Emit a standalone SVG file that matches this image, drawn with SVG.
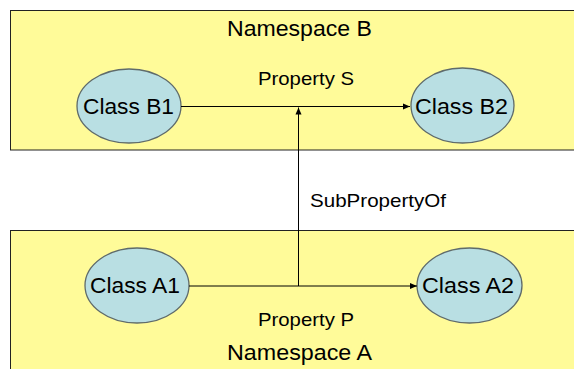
<svg xmlns="http://www.w3.org/2000/svg" width="574" height="369" viewBox="0 0 574 369">
<style>
.ns{fill:#FFFB99;stroke:#222;stroke-width:1}
.cls{fill:#B9DFE3;stroke:#5F6B6B;stroke-width:1.3}
text{font-family:"Liberation Sans",Arial,sans-serif;fill:#000}
.big{font-size:22px}
.mid{font-size:18.5px}
.edge{stroke:#000;stroke-width:1;fill:none}
</style>
<defs>
<marker id="ah" markerWidth="8" markerHeight="8" refX="7" refY="4" orient="auto" markerUnits="userSpaceOnUse">
<path d="M0,1 L7,4 L0,7 Z" fill="#000"/>
</marker>
</defs>
<g id="namespaceB">
<rect class="ns" x="10.5" y="10.5" width="580" height="139.5"/>
<text class="big" x="299.5" y="36" text-anchor="middle" textLength="145" lengthAdjust="spacingAndGlyphs">Namespace B</text>
</g>
<g id="namespaceA">
<rect class="ns" x="10.5" y="230.5" width="580" height="150"/>
<text class="big" x="299.5" y="360" text-anchor="middle" textLength="145" lengthAdjust="spacingAndGlyphs">Namespace A</text>
</g>
<g id="classB1">
<ellipse class="cls" cx="129" cy="106" rx="52" ry="37"/>
<text class="big" x="128.5" y="113.5" text-anchor="middle" textLength="91" lengthAdjust="spacingAndGlyphs">Class B1</text>
</g>
<g id="classB2">
<ellipse class="cls" cx="462.5" cy="105.5" rx="51.5" ry="37.5"/>
<text class="big" x="461.5" y="113.5" text-anchor="middle" textLength="93" lengthAdjust="spacingAndGlyphs">Class B2</text>
</g>
<g id="classA1">
<ellipse class="cls" cx="137" cy="285.5" rx="52" ry="37.5"/>
<text class="big" x="135" y="293" text-anchor="middle" textLength="90" lengthAdjust="spacingAndGlyphs">Class A1</text>
</g>
<g id="classA2">
<ellipse class="cls" cx="469.5" cy="285.5" rx="52.5" ry="37.5"/>
<text class="big" x="468" y="293" text-anchor="middle" textLength="92" lengthAdjust="spacingAndGlyphs">Class A2</text>
</g>
<g id="connectors">
<line class="edge" x1="181" y1="106.5" x2="410" y2="106.5" marker-end="url(#ah)"/>
<line class="edge" x1="189" y1="286" x2="417" y2="286" marker-end="url(#ah)"/>
<line class="edge" x1="298.5" y1="286" x2="298.5" y2="107.5" marker-end="url(#ah)"/>
<text class="mid" x="306" y="85" text-anchor="middle" textLength="96" lengthAdjust="spacingAndGlyphs">Property S</text>
<text class="mid" x="306" y="326" text-anchor="middle" textLength="96" lengthAdjust="spacingAndGlyphs">Property P</text>
<text class="mid" x="310" y="207" textLength="136" lengthAdjust="spacingAndGlyphs">SubPropertyOf</text>
</g>
</svg>
